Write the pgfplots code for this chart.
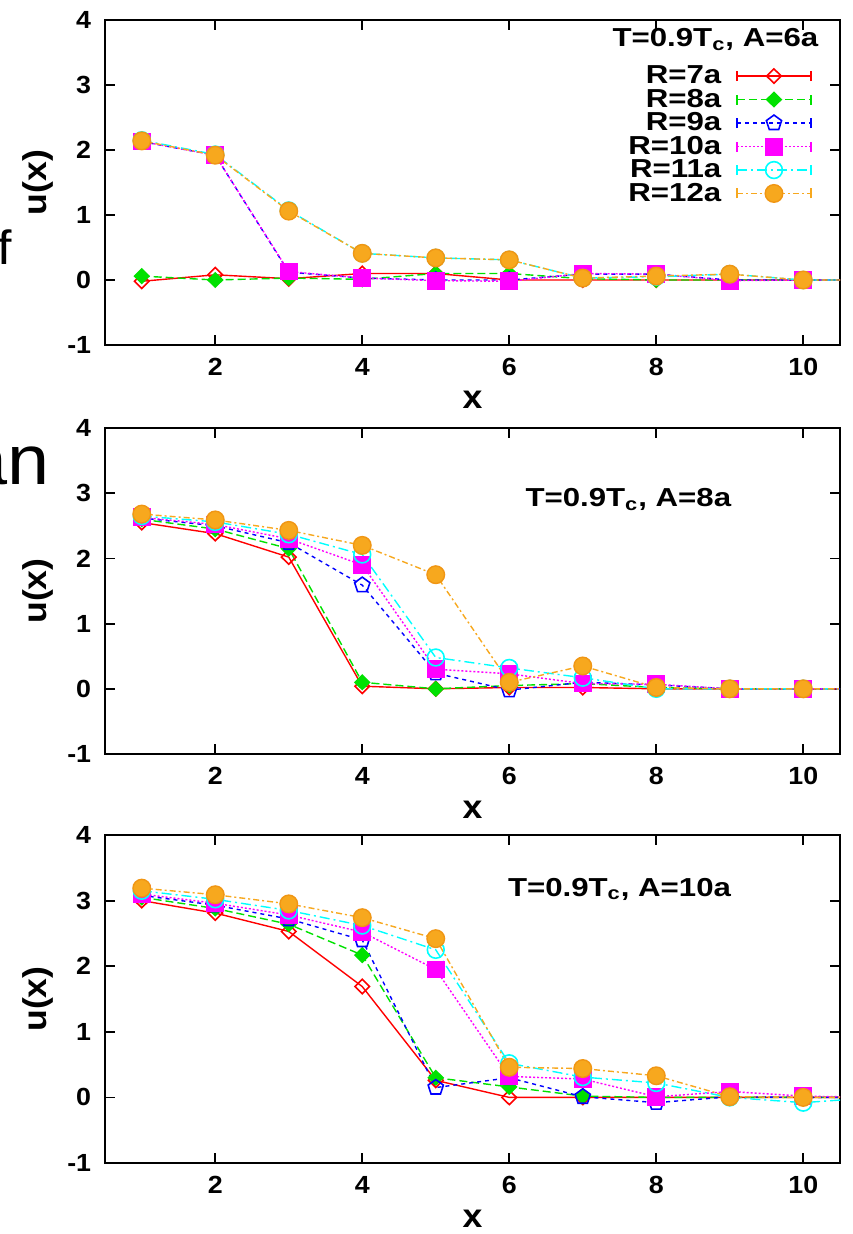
\documentclass[border=0pt]{standalone}
\usepackage{fontspec}
\setmainfont[FakeStretch=1.08]{Liberation Sans}
\newfontfamily\widefont[FakeStretch=1.2]{Liberation Sans}
\usepackage{pgfplots}
\pgfplotsset{compat=1.18}
\definecolor{cred}{RGB}{255,0,0}
\definecolor{cgreen}{RGB}{0,225,0}
\definecolor{cblue}{RGB}{0,0,255}
\definecolor{cmag}{RGB}{255,0,255}
\definecolor{ccyan}{RGB}{0,255,255}
\definecolor{corange}{RGB}{247,168,30}
\definecolor{corangeD}{RGB}{240,150,20}
\pgfplotsset{
  panel/.style={
    scale only axis, width=367.5pt,
    xmin=0.5, xmax=10.5, ymin=-1, ymax=4,
    xtick={2,4,6,8,10}, ytick={-1,0,1,2,3,4},
    tick align=inside, major tick length=5pt,
    every tick/.style={black, line width=0.9pt},
    axis line style={line width=1.3pt},
    /pgf/number format/assume math mode=true,
    tick label style={font=\fontsize{12.4}{14}\selectfont\bfseries},
    xticklabel style={yshift=-3pt},
    yticklabel style={xshift=-3.4pt},
    xlabel={x}, ylabel={u(x)},
    label style={font=\fontsize{16.5}{18}\selectfont\bfseries},
    xlabel style={at={(axis description cs:0.5,-0.17)}, anchor=center},
    ylabel style={at={(axis description cs:-0.091,0.5)}, anchor=center},
    legend image code/.code={
      \draw[mark repeat=2,mark phase=2,##1] plot coordinates {(0pt,0pt) (18.5pt,0pt) (37pt,0pt)};
      \draw[##1,solid,line width=0.6pt] (0pt,-2.5pt) -- (0pt,2.5pt) (37pt,-2.5pt) -- (37pt,2.5pt);
    },
  },
  sA/.style={cred, line width=0.7pt, solid, mark=diamond, mark size=3.6pt, mark options={solid, xscale=1.35, line width=0.8pt}},
  sB/.style={cgreen, line width=0.7pt, dash pattern=on 4pt off 2pt, mark=diamond*, mark size=3.6pt, mark options={solid, fill=cgreen, xscale=1.35}},
  sC/.style={cblue, line width=0.7pt, dash pattern=on 2pt off 2pt, mark=pentagon, mark size=4pt, mark options={solid, line width=0.8pt}},
  sD/.style={cmag, line width=0.7pt, dash pattern=on 1pt off 1pt, mark=square*, mark size=4.1pt, mark options={solid, fill=cmag}},
  sE/.style={ccyan, line width=0.7pt, dash pattern=on 5pt off 2pt on 1pt off 2pt, mark=o, mark size=4.2pt, mark options={solid, line width=0.8pt}},
  sF/.style={corange, line width=0.7pt, dash pattern=on 3pt off 1.5pt on 1pt off 1.5pt, mark=*, mark size=4.4pt, mark options={solid, fill=corange, draw=corangeD}},
}
\newcommand\ttl{\widefont\fontsize{13}{13}\selectfont\bfseries}
\begin{document}
\begin{tikzpicture}
\useasboundingbox (0,0) rectangle (426pt,-617pt);
\node[anchor=base east, inner sep=0pt, font=\fontsize{35}{35}\selectfont] at (25pt,-242.5pt) {an};
\node[anchor=base east, inner sep=0pt, font=\fontsize{24}{24}\selectfont] at (6pt,-132.5pt) {f};
% ---------------- panel 1
\begin{axis}[panel, height=162.5pt, at={(52.5pt,-172.5pt)}, anchor=south west,
  legend plot pos=right, legend cell align=right,
  legend style={at={(axis description cs:0.962,0.87)}, anchor=north east, draw=none, fill=none,
    inner sep=0pt, row sep=-1.8pt, column sep=6pt, nodes={inner sep=1.5pt}, font=\ttl}]
\addplot[sA] coordinates {(1,-0.02)(2,0.08)(3,0.02)(4,0.1)(5,0.1)(6,0.0)(7,0.0)(8,0.0)(9,0.0)(10,0.0)(11,0)};
\addplot[sB] coordinates {(1,0.06)(2,0.0)(3,0.03)(4,0.01)(5,0.1)(6,0.1)(7,0.02)(8,0.0)(9,0.0)(10,0.0)(11,0)};
\addplot[sC] coordinates {(1,2.13)(2,1.92)(3,0.12)(4,0.03)(5,0.0)(6,0.0)(7,0.09)(8,0.09)(9,0.0)(10,0.0)(11,0)};
\addplot[sD] coordinates {(1,2.13)(2,1.92)(3,0.13)(4,0.03)(5,-0.01)(6,-0.02)(7,0.1)(8,0.09)(9,-0.01)(10,0.0)(11,0)};
\addplot[sE] coordinates {(1,2.15)(2,1.93)(3,1.07)(4,0.41)(5,0.34)(6,0.31)(7,0.03)(8,0.05)(9,0.09)(10,0.0)(11,0)};
\addplot[sF] coordinates {(1,2.14)(2,1.92)(3,1.06)(4,0.41)(5,0.34)(6,0.31)(7,0.03)(8,0.06)(9,0.09)(10,0.0)(11,0)};
\legend{R=7a,R=8a,R=9a,R=10a,R=11a,R=12a}
\node[anchor=base east, font=\ttl] at (rel axis cs:0.98,0.917) {T=0.9T\textsubscript{c}, A=6a};
\end{axis}
% ---------------- panel 2
\begin{axis}[panel, height=163pt, at={(52.5pt,-377pt)}, anchor=south west]
\addplot[sA] coordinates {(1,2.55)(2,2.38)(3,2.02)(4,0.04)(5,0.0)(6,0.02)(7,0.02)(8,0.0)(9,0.0)(10,0.0)(11,0)};
\addplot[sB] coordinates {(1,2.6)(2,2.45)(3,2.15)(4,0.1)(5,0.0)(6,0.05)(7,0.08)(8,0.02)(9,0.0)(10,0.0)(11,0)};
\addplot[sC] coordinates {(1,2.62)(2,2.5)(3,2.24)(4,1.59)(5,0.24)(6,-0.02)(7,0.1)(8,0.06)(9,0.0)(10,0.0)(11,0)};
\addplot[sD] coordinates {(1,2.63)(2,2.52)(3,2.3)(4,1.9)(5,0.3)(6,0.23)(7,0.08)(8,0.07)(9,0.0)(10,0.0)(11,0)};
\addplot[sE] coordinates {(1,2.65)(2,2.56)(3,2.37)(4,2.06)(5,0.48)(6,0.32)(7,0.17)(8,0.0)(9,0.0)(10,0.0)(11,0)};
\addplot[sF] coordinates {(1,2.68)(2,2.59)(3,2.43)(4,2.2)(5,1.75)(6,0.1)(7,0.35)(8,0.02)(9,0.0)(10,0.0)(11,0)};
\node[anchor=base, font=\ttl] at (rel axis cs:0.712,0.758) {T=0.9T\textsubscript{c}, A=8a};
\end{axis}
% ---------------- panel 3
\begin{axis}[panel, height=164pt, at={(52.5pt,-581.5pt)}, anchor=south west]
\addplot[sA] coordinates {(1,3.0)(2,2.81)(3,2.53)(4,1.69)(5,0.26)(6,0.0)(7,0.0)(8,0.0)(9,0.0)(10,0.0)(11,0)};
\addplot[sB] coordinates {(1,3.05)(2,2.88)(3,2.64)(4,2.17)(5,0.3)(6,0.16)(7,0.02)(8,0.0)(9,0.0)(10,0.0)(11,0)};
\addplot[sC] coordinates {(1,3.08)(2,2.93)(3,2.72)(4,2.4)(5,0.15)(6,0.3)(7,0.01)(8,-0.08)(9,0.01)(10,0.0)(11,0)};
\addplot[sD] coordinates {(1,3.1)(2,2.96)(3,2.78)(4,2.52)(5,1.95)(6,0.32)(7,0.28)(8,0.01)(9,0.09)(10,0.02)(11,0)};
\addplot[sE] coordinates {(1,3.15)(2,3.02)(3,2.85)(4,2.62)(5,2.25)(6,0.52)(7,0.31)(8,0.22)(9,0.0)(10,-0.08)(11,0)};
\addplot[sF] coordinates {(1,3.19)(2,3.09)(3,2.95)(4,2.74)(5,2.42)(6,0.46)(7,0.44)(8,0.33)(9,0.01)(10,0.0)(11,0)};
\node[anchor=base, font=\ttl] at (rel axis cs:0.70,0.814) {T=0.9T\textsubscript{c}, A=10a};
\end{axis}
\end{tikzpicture}
\end{document}
